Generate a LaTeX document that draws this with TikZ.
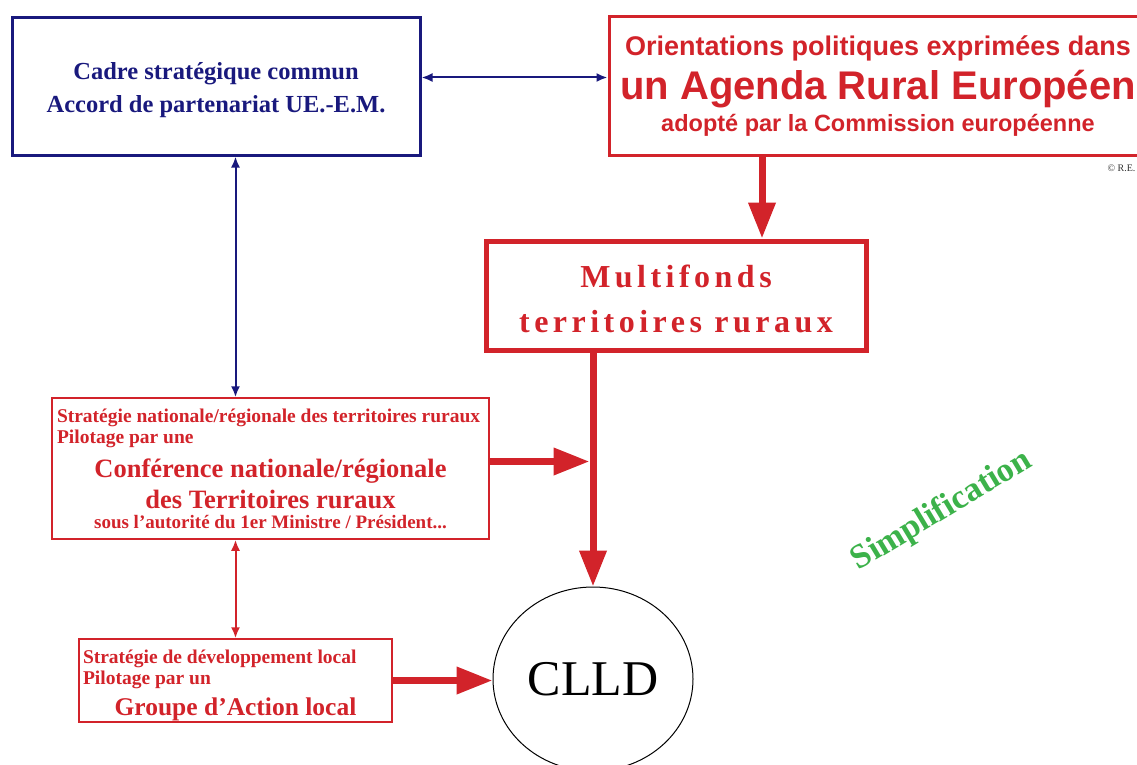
\documentclass[tikz,border=0pt]{standalone}
\usepackage{fontspec}
\setmainfont{Liberation Serif}
\setsansfont{Liberation Sans}
\newfontfamily\spacedfont[LetterSpace=14]{Liberation Serif}
\usepackage{tikz}
\usetikzlibrary{arrows.meta,shapes.geometric}
\definecolor{cadreblue}{RGB}{25,25,125}
\definecolor{agendared}{RGB}{210,35,42}
\definecolor{simpgreen}{RGB}{60,178,74}
\newcommand\wordspacing{\spaceskip=\fontdimen2\font\xspaceskip=\fontdimen2\font\relax}

\begin{document}
\begin{tikzpicture}[x=1pt, y=-1pt,
	bluebox/.style={draw=cadreblue, line width=3, text=cadreblue, font=\bfseries\fontsize{24.5}{33}\selectfont, minimum width=408, minimum height=137, inner sep=0, align=center},
	agendabox/.style={draw=agendared, line width=3, text=agendared, font=\sffamily\bfseries, minimum width=538, minimum height=138, text width=530, inner sep=0, align=center},
	fondsbox/.style={draw=agendared, line width=5, text=agendared, font=\spacedfont\bfseries\fontsize{32}{45}\selectfont, minimum width=380, minimum height=109, inner sep=0, align=center},
	redbox/.style={draw=agendared, line width=1.5, text=agendared, font=\bfseries, inner sep=5, align=left},
	bigarrow/.style={draw=agendared, line width=7, -{Triangle[length=36pt,width=26pt]}},
	bluearrow/.style={draw=cadreblue, line width=2, {Latex[length=11pt,width=9pt]}-{Latex[length=11pt,width=9pt]}},
	redarrow/.style={draw=agendared, line width=2, {Latex[length=11pt,width=9pt]}-{Latex[length=11pt,width=9pt]}}
]
\useasboundingbox (0,0) rectangle (1137,765);

\node[bluebox] (cadre) at (216,86.5) {\rule{0pt}{25pt}Cadre stratégique commun\\Accord de partenariat UE.-E.M.};
\node[agendabox] (agenda) at (878,86) {\fontsize{27}{30}\selectfont\wordspacing Orientations politiques exprimées dans\par
	\fontsize{40}{44}\selectfont\wordspacing un Agenda Rural Européen\par
	\fontsize{23.5}{32}\selectfont\wordspacing adopté par la Commission européenne\par};
\node[anchor=west, font=\fontsize{10}{10}\selectfont, text=black!80] (copy) at (1104,168) {© R.E.};

\node[fondsbox] (fonds) at (676,295.5) {\rule{0pt}{28.5pt}Multifonds\\territoires ruraux};

\node[redbox, minimum width=437, minimum height=141, text width=427] (conf) at (270.5,468.5) {\fontsize{19.5}{21}\selectfont\wordspacing Stratégie nationale/régionale des territoires ruraux\\Pilotage par une\par
	\vspace{3pt}\centering\fontsize{26.5}{31}\selectfont\wordspacing Conférence nationale/régionale\\des Territoires ruraux\par
	\fontsize{19}{20}\selectfont\wordspacing sous l’autorité du 1er Ministre / Président...\par};
\node[redbox, inner xsep=4, inner ysep=0.5, minimum width=313, minimum height=83, text width=305] (gal) at (235.5,680.5) {\fontsize{19.5}{21}\selectfont\wordspacing\rule{0pt}{24pt}Stratégie de développement local\\Pilotage par un\par
	\centering\fontsize{25.5}{31}\selectfont\wordspacing Groupe d’Action local\par};

\node[ellipse, draw, line width=1, minimum width=200, minimum height=184, inner sep=0, font=\fontsize{50}{50}\selectfont] (clld) at (593,679) {CLLD};

\node[rotate=31, text=simpgreen, font=\bfseries\fontsize{34}{34}\selectfont] (simp) at (942,511) {Simplification};

\draw[bluearrow] ([yshift=9]cadre.east) -- ([yshift=9]cadre.east -| agenda.west);
\draw[bluearrow] (gal.north |- cadre.south) -- (gal.north |- conf.north);
\draw[redarrow]  (gal.north |- conf.south) -- (gal.north);

\draw[bigarrow] ([xshift=86]fonds.north |- agenda.south) -- ([xshift=86]fonds.north);
\draw[bigarrow] (clld.north |- fonds.south) -- (clld.north);
\draw[bigarrow] ([yshift=7]conf.east) -- ([yshift=7,xshift=-3.5]conf.east -| clld.north);
\draw[bigarrow] (gal.east) -- (gal.east -| clld.west);
\end{tikzpicture}
\end{document}
